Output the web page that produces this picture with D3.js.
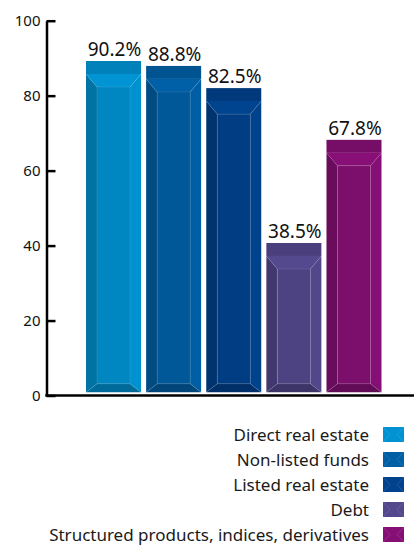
<!DOCTYPE html>
<html>
<head>
<meta charset="utf-8">
<script src="https://cdn.jsdelivr.net/npm/d3@7/dist/d3.min.js"></script>
<style>
  html, body { margin: 0; padding: 0; background: #fff; }
  svg { display: block; font-family: "Noto Sans", "Open Sans", sans-serif; }
</style>
</head>
<body>
<svg id="chart" width="414" height="546"></svg>
<script>
// Share of investors using each real estate investment route (%)
const categories = [
  "Direct real estate",
  "Non-listed funds",
  "Listed real estate",
  "Debt",
  "Structured products, indices, derivatives"
];
const values = [90.2, 88.8, 82.5, 38.5, 67.8];
const barColors = ["#0087C2", "#005899", "#003D82", "#4D4282", "#7C0E6C"];
const yTicks = [0, 20, 40, 60, 80, 100];

const svg = d3.select("#chart");

// Axis scale and the scale used for the bevelled columns
const y = d3.scaleLinear().domain([0, 100]).range([395.5, 20.7]);
const yBar = d3.scaleLinear().domain([0, 100]).range([378.5, 26.5]);
const barBase = 392.3;

const x = d3.scaleBand()
  .domain(categories)
  .range([80.9, 386.6])
  .paddingInner(0.085)
  .paddingOuter(0.085);

const shade = (c, k) => (k >= 0 ? d3.color(c).brighter(k) : d3.color(c).darker(-k)).formatHex();

const cap = 13, bevel = 13, inset = 11, foot = 8.5;

const bars = svg.append("g").attr("class", "bars")
  .selectAll("g")
  .data(categories.map((c, i) => ({ cat: c, value: values[i], color: barColors[i] })))
  .join("g");

bars.each(function (d) {
  const g = d3.select(this);
  const x0 = x(d.cat), x1 = x0 + x.bandwidth();
  const t = yBar(d.value);
  const b = barBase;
  const faceTop = t + cap + bevel;
  const poly = pts => pts.map(p => p.join(",")).join(" ");

  // top cap
  g.append("rect").attr("x", x0).attr("y", t).attr("width", x1 - x0).attr("height", cap)
    .attr("fill", shade(d.color, -0.13));
  // top bevel
  g.append("polygon").attr("points", poly([[x0, t + cap], [x1, t + cap], [x1 - inset, faceTop], [x0 + inset, faceTop]]))
    .attr("fill", shade(d.color, 0.25));
  // left face
  g.append("polygon").attr("points", poly([[x0, t + cap], [x0 + inset, faceTop], [x0 + inset, b - foot], [x0, b]]))
    .attr("fill", shade(d.color, -0.45));
  // right face
  g.append("polygon").attr("points", poly([[x1, t + cap], [x1 - inset, faceTop], [x1 - inset, b - foot], [x1, b]]))
    .attr("fill", shade(d.color, 0.2));
  // front face
  g.append("rect").attr("x", x0 + inset).attr("y", faceTop).attr("width", x1 - x0 - 2 * inset).attr("height", b - foot - faceTop)
    .attr("fill", d.color);
  // bottom bevel
  g.append("polygon").attr("points", poly([[x0 + inset, b - foot], [x1 - inset, b - foot], [x1, b], [x0, b]]))
    .attr("fill", shade(d.color, -0.65));
  // edge highlights
  const hl = g.append("g").attr("stroke", "rgba(255,255,255,0.17)").attr("stroke-width", 0.6).attr("fill", "none");
  hl.append("path").attr("d",
    `M${x0},${t + cap}L${x0 + inset},${faceTop}L${x1 - inset},${faceTop}L${x1},${t + cap}` +
    `M${x0 + inset},${faceTop}V${b - foot}L${x0},${b}` +
    `M${x1 - inset},${faceTop}V${b - foot}L${x1},${b}` +
    `M${x0 + inset},${b - foot}H${x1 - inset}`);

  // value label
  g.append("text")
    .attr("x", (x0 + x1) / 2 + 1)
    .attr("y", t - 4.8)
    .attr("text-anchor", "middle")
    .attr("font-size", 19)
    .attr("fill", "#111")
    .text(d3.format(".1f")(d.value) + "%");
});

// Y axis with inward ticks
const yAxis = d3.axisLeft(y)
  .tickValues(yTicks)
  .tickSize(-9)
  .tickSizeOuter(0)
  .tickPadding(6)
  .tickFormat(d3.format("d"));

const ya = svg.append("g").attr("transform", "translate(46.5,0)").call(yAxis);
ya.select(".domain").attr("stroke", "#000").attr("stroke-width", 2.5);
ya.selectAll(".tick line").attr("stroke", "#000").attr("stroke-width", 2.5);
ya.selectAll(".tick text").attr("font-size", 15).attr("fill", "#111")
  .attr("font-family", "\"Noto Sans\", sans-serif");

// X baseline
svg.append("line")
  .attr("x1", 45.3).attr("x2", 414)
  .attr("y1", y(0)).attr("y2", y(0))
  .attr("stroke", "#000").attr("stroke-width", 2.5);

// Legend
const legend = svg.append("g").attr("class", "legend")
  .selectAll("g")
  .data(categories.map((c, i) => ({ cat: c, color: barColors[i] })))
  .join("g")
  .attr("transform", (d, i) => `translate(0,${434.5 + i * 25})`);

legend.append("text")
  .attr("x", 369)
  .attr("dy", "0.36em")
  .attr("text-anchor", "end")
  .attr("font-size", 17)
  .attr("fill", "#1a1a1a")
  .text(d => d.cat);

legend.append("rect")
  .attr("x", 383).attr("y", -7.5).attr("width", 21).attr("height", 15)
  .attr("fill", d => shade(d.color, 0.22));

legend.append("path")
  .attr("d", "M383,-7.5L390,0L383,7.5M404,-7.5L397,0L404,7.5")
  .attr("stroke", "rgba(255,255,255,0.18)")
  .attr("stroke-width", 0.7)
  .attr("fill", "none");
</script>
</body>
</html>
